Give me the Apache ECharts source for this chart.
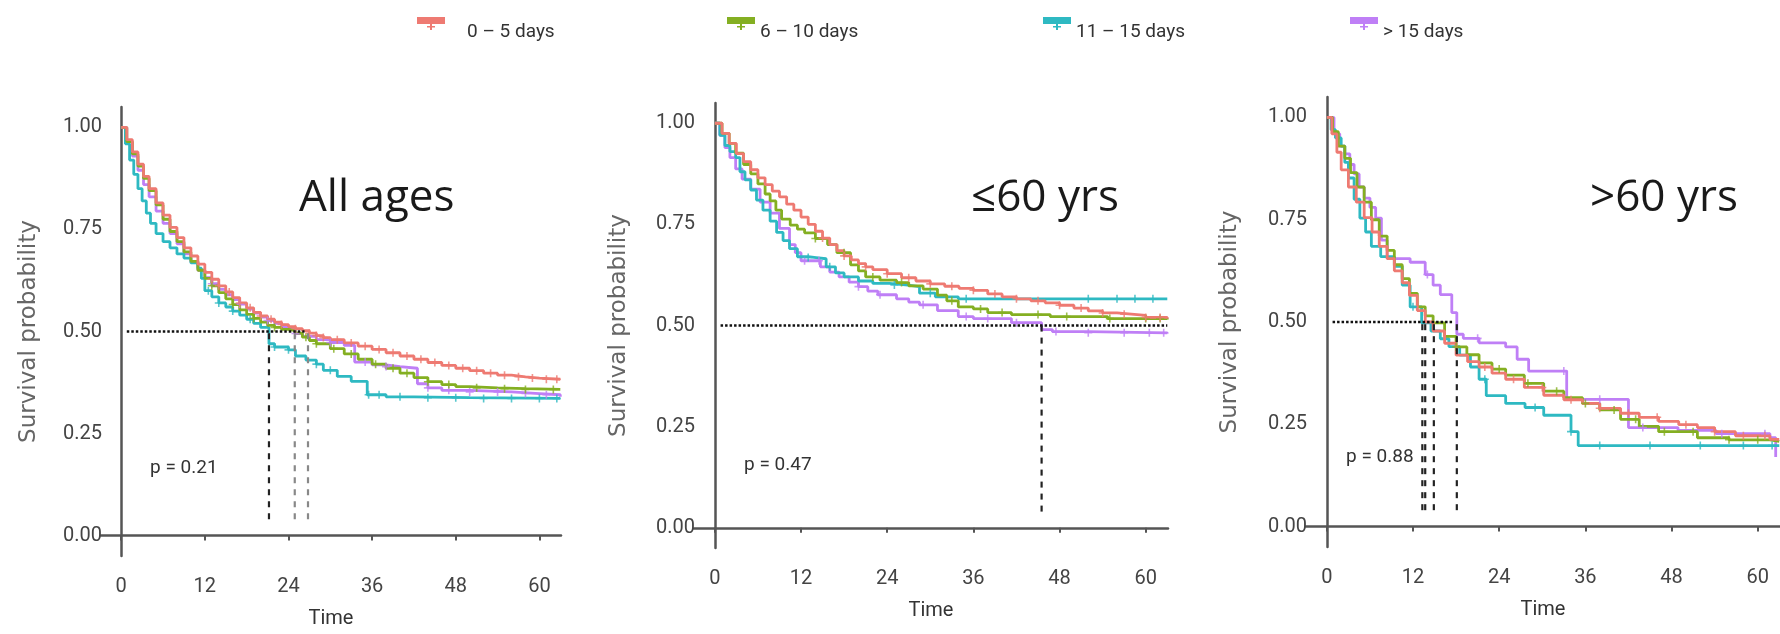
<!DOCTYPE html>
<html>
<head>
<meta charset="utf-8">
<script src="https://cdn.jsdelivr.net/npm/echarts@6/dist/echarts.min.js"></script>
<style>
  html, body { margin: 0; background: #fff; }
  #chart { width: 1780px; height: 634px; }
</style>
</head>
<body>
<div id="chart"></div>
<script>
// strata, panels and ticks
var groups = ['0 – 5 days', '6 – 10 days', '11 – 15 days', '> 15 days'];
var titles = ['All ages', '≤60 yrs', '>60 yrs'];
var pValues = ['p = 0.21', 'p = 0.47', 'p = 0.88'];
var xTicks = [0, 12, 24, 36, 48, 60];
var yTicks = [0, 0.25, 0.5, 0.75, 1];

// Kaplan-Meier curves: [time, survival]
var all05 = [[0,1],[0.8,0.97],[1.6,0.94],[2.4,0.91],[3.2,0.88],[4,0.85],[5,0.815],[6,0.785],[7,0.755],[8,0.73],[9,0.705],[10,0.685],[11,0.665],[12,0.645],[13,0.628],[14,0.612],[15,0.597],[16,0.583],[17,0.57],[18,0.558],[19,0.547],[20,0.538],[21,0.53],[22,0.523],[23,0.517],[24,0.512],[25,0.507],[26,0.502],[27,0.496],[28,0.49],[29,0.485],[30,0.48],[32,0.472],[34,0.464],[36,0.456],[38,0.448],[40,0.44],[42,0.432],[44,0.424],[46,0.417],[48,0.41],[50,0.404],[52,0.398],[54,0.393],[56,0.389],[58,0.386],[60,0.383],[63,0.382]];
var all610 = [[0,1],[0.8,0.965],[1.6,0.935],[2.4,0.905],[3.2,0.875],[4,0.845],[5,0.81],[6,0.775],[7,0.745],[8,0.72],[9,0.695],[10,0.672],[11,0.65],[12,0.63],[13,0.612],[14,0.595],[15,0.58],[16,0.566],[17,0.553],[18,0.542],[19,0.532],[20,0.523],[21,0.515],[22,0.51],[23,0.505],[24,0.502],[25,0.496],[26,0.486],[27,0.478],[28,0.47],[30,0.458],[32,0.445],[34,0.432],[36,0.42],[38,0.41],[40,0.398],[42,0.387],[44,0.377],[46,0.37],[48,0.365],[50,0.362],[54,0.36],[58,0.358],[63,0.357]];
var all1115 = [[0,1],[0.6,0.96],[1.2,0.92],[1.8,0.885],[2.4,0.85],[3,0.82],[3.6,0.79],[4.2,0.765],[5,0.74],[6,0.72],[7,0.705],[8,0.69],[9,0.68],[10,0.668],[11,0.655],[11.5,0.63],[12,0.6],[13,0.585],[14,0.57],[15,0.56],[16,0.55],[17,0.54],[18,0.53],[19,0.52],[20,0.51],[21.2,0.47],[22,0.462],[24,0.455],[25,0.44],[26.5,0.43],[28,0.42],[29,0.405],[31,0.39],[33,0.378],[35.3,0.345],[38,0.34],[42,0.338],[50,0.336],[63,0.336]];
var all15 = [[0,1],[0.8,0.965],[1.6,0.93],[2.4,0.895],[3.2,0.86],[4,0.83],[5,0.795],[6,0.765],[7,0.74],[8,0.715],[9,0.69],[10,0.67],[11,0.65],[12,0.632],[13,0.617],[14,0.603],[15,0.59],[16,0.578],[17,0.567],[18,0.555],[19,0.545],[20,0.535],[21,0.527],[22,0.52],[23,0.512],[24,0.505],[25,0.495],[26,0.488],[28,0.48],[30,0.473],[32,0.466],[33.5,0.425],[36,0.418],[38,0.414],[40,0.41],[42.5,0.372],[44,0.362],[46,0.356],[50,0.352],[56,0.348],[60,0.345],[63,0.34]];

var young05 = [[0,1],[1,0.975],[2,0.95],[3,0.925],[4,0.905],[5,0.885],[6,0.865],[7,0.848],[8,0.832],[9,0.818],[10,0.8],[11,0.785],[12,0.768],[13,0.75],[14,0.733],[15,0.716],[16,0.7],[17,0.685],[18,0.672],[19,0.662],[20,0.653],[21,0.645],[22,0.638],[24,0.628],[26,0.618],[28,0.61],[30,0.603],[32,0.597],[34,0.592],[36,0.587],[38,0.578],[40,0.571],[42,0.566],[44,0.561],[46,0.556],[48,0.55],[50,0.543],[52,0.536],[54,0.531],[56,0.528],[58,0.525],[60,0.52],[63,0.517]];
var young610 = [[0,1],[1,0.975],[2,0.95],[2.9,0.926],[4,0.898],[5,0.875],[6,0.85],[7,0.825],[7.7,0.808],[8.5,0.785],[9.3,0.763],[10.5,0.748],[11.5,0.738],[12.5,0.729],[14,0.715],[15.7,0.7],[17,0.68],[18.9,0.65],[20,0.635],[21,0.62],[23,0.612],[25.3,0.606],[27,0.598],[29,0.59],[31,0.575],[32.3,0.561],[33.9,0.546],[36,0.541],[38,0.532],[41.3,0.527],[46.7,0.522],[54.7,0.517],[63,0.515]];
var young1115 = [[0,1],[0.7,0.97],[1.4,0.945],[2.1,0.93],[2.9,0.915],[3.5,0.88],[4.2,0.86],[5,0.835],[5.8,0.81],[6.7,0.785],[7.7,0.758],[8.6,0.73],[9.5,0.71],[10.4,0.69],[11.5,0.67],[13,0.668],[14.1,0.665],[15.5,0.645],[16.8,0.63],[18,0.62],[20,0.61],[22,0.604],[24.3,0.6],[26.9,0.596],[28.5,0.58],[30.7,0.571],[33.9,0.566],[63,0.566]];
var young15 = [[0,1],[0.7,0.97],[1.4,0.94],[2.1,0.915],[2.9,0.887],[3.8,0.862],[5,0.837],[6.3,0.805],[7.7,0.778],[9,0.74],[10.4,0.7],[11.2,0.68],[12,0.66],[14.7,0.645],[16,0.632],[17.3,0.62],[18.7,0.607],[20,0.596],[21.3,0.585],[22.7,0.576],[25.3,0.566],[27,0.558],[28.5,0.551],[31,0.537],[33.9,0.522],[36,0.517],[41.3,0.507],[45.5,0.49],[47,0.485],[52,0.482],[63,0.48]];

var old05 = [[0,1],[0.7,0.96],[1.4,0.915],[2,0.872],[3,0.83],[4.1,0.793],[5.2,0.755],[6.3,0.72],[7.3,0.685],[8.4,0.655],[9.4,0.625],[10.5,0.596],[11.5,0.565],[12.6,0.528],[13.7,0.5],[14.8,0.478],[16.4,0.448],[18,0.419],[19.6,0.403],[21.2,0.39],[23,0.375],[24.9,0.36],[27.5,0.34],[30.2,0.321],[33,0.31],[35.6,0.301],[38,0.289],[40.9,0.277],[43.5,0.267],[46.2,0.257],[49,0.249],[51.6,0.242],[54,0.232],[56.9,0.222],[61.7,0.213],[63,0.212]];
var old610 = [[0,1],[0.8,0.965],[1.6,0.93],[2.5,0.9],[3.3,0.865],[4.2,0.83],[5.2,0.793],[6.2,0.75],[7.3,0.71],[8.4,0.675],[9.4,0.64],[10.5,0.606],[11.5,0.57],[12.6,0.537],[13.7,0.515],[14.8,0.498],[16.4,0.465],[18,0.439],[19.5,0.42],[21.2,0.4],[23,0.385],[24.9,0.37],[27.5,0.35],[30.2,0.331],[33,0.315],[35.6,0.301],[38,0.285],[40.9,0.262],[43.5,0.245],[46.2,0.232],[51.6,0.217],[56,0.212],[61.7,0.208],[63,0.207]];
var old1115 = [[0,1],[0.6,0.97],[1.2,0.95],[2,0.93],[2.5,0.89],[3,0.852],[3.8,0.8],[4.6,0.754],[5.4,0.72],[6.2,0.685],[7.5,0.66],[9.4,0.636],[10.5,0.59],[11.6,0.537],[13.2,0.498],[14.5,0.478],[15.8,0.459],[17,0.44],[18.5,0.419],[20,0.39],[21.2,0.36],[22.2,0.32],[24.9,0.301],[27.6,0.291],[30.2,0.272],[34,0.232],[35,0.198],[63,0.198]];
var old15 = [[0,1],[1,0.96],[1.8,0.93],[2.5,0.911],[3.2,0.885],[3.8,0.862],[4.5,0.83],[5.2,0.803],[6,0.78],[6.8,0.754],[7.6,0.7],[8.4,0.655],[11.6,0.646],[13.7,0.616],[14.8,0.59],[15.8,0.567],[17.4,0.523],[18.1,0.47],[19,0.46],[21.2,0.449],[24.9,0.439],[26.5,0.409],[28.1,0.38],[33.4,0.311],[42,0.242],[48.9,0.235],[54.2,0.227],[61.7,0.217],[62.5,0.17]];

// censoring times (+ marks)
var all05Cens = [13,14,15.5,17,18.5,20,21.5,23,25,27,28,29,31,33,35,37,39,41,43,45,47,49,51,53,55,57,59,61,62.5];
var all610Cens = [13,16,19,22,26.5,28,30.5,33,36.5,39,41,44,47,51,55,58,62];
var all1115Cens = [12.5,14,16,18.5,22,24,28,30,35.5,37,40,44,48,52,56,60,62.5];
var all15Cens = [13,17,21,25,30,35,38,44,47,50,54,58,61];
var young05Cens = [15,18,21,24,27,30,33,36,39,42,45,48,51,54,57,60,62];
var young610Cens = [14,18,22,26,33,37,40,45,49,55,60,62];
var young1115Cens = [13,16,25,30,35,52,56,58.5,61];
var young15Cens = [12.5,14.5,20,23,29,35,38,42,47.5,52,57,60.5,62.5];
var old05Cens = [22,26,30,34,38,42,46,50,54,58,61];
var old610Cens = [18,24,28,32,36,40,43,47,51,56,60];
var old1115Cens = [12,22,29,34,38,45,52,58,62];
var old15Cens = [14,21,33,38,44,55,61];

// median survival times and the dotted 0.5 line span
var allMedians = [21.2, 24.9, 26.8];
var youngMedians = [45.5];
var oldMedians = [13.3, 13.7, 14.9, 18.1];
var medianLineEnd = [26.3, 63, 17.6];

var colors = ['#EE7A72', '#84AF22', '#2EB9C2', '#BF7FF6'];
var narrow = "Roboto, 'Liberation Sans', sans-serif";
var plus = 'path://M4,0H6V4H10V6H6V10H4V6H0V4H4Z';
// legend key: coloured bar with a small + under it, padded below so the text sits lower
var keyIcon = 'path://M0,0H28V7H0Z M13,7H15V13H13Z M10,9H18V10.5H10Z M0,29.9H0.1V30H0Z';

var curves = [[all05, all610, all1115, all15], [young05, young610, young1115, young15], [old05, old610, old1115, old15]];
var censors = [[all05Cens, all610Cens, all1115Cens, all15Cens], [young05Cens, young610Cens, young1115Cens, young15Cens], [old05Cens, old610Cens, old1115Cens, old15Cens]];
var medians = [allMedians, youngMedians, oldMedians];

var grids = [
  { left: 101, top: 107, width: 460, height: 449 },
  { left: 694, top: 103, width: 474, height: 445 },
  { left: 1306, top: 97, width: 474, height: 450 }
];
var yNameGap = [60, 63, 64];
var titlePos = [[294, 171], [966, 171], [1585, 171]];
var pPos = [[145, 454], [739, 451], [1341, 443]];
var legendX = [412, 722, 1038, 1345];

function stepAt(curve, t) {
  var v = curve[0][1];
  for (var i = 0; i < curve.length; i++) {
    if (curve[i][0] <= t) v = curve[i][1];
  }
  return v;
}

var chart = echarts.init(document.getElementById('chart'));

var xAxes = [], yAxes = [], series = [], titleList = [];
grids.forEach(function (g, p) {
  xAxes.push({
    gridIndex: p, type: 'value', min: -2.9, max: 63.1,
    name: 'Time', nameLocation: 'middle', nameGap: 53,
    nameTextStyle: { fontFamily: narrow, fontSize: 20, color: '#333' },
    axisLine: { lineStyle: { color: '#555', width: 2.5 } },
    axisTick: { show: true, length: 5, customValues: xTicks, lineStyle: { color: '#555', width: 2 } },
    axisLabel: { customValues: xTicks, margin: 21, fontFamily: narrow, fontSize: 20, color: '#444' },
    splitLine: { show: false }
  });
  yAxes.push({
    gridIndex: p, type: 'value', min: -0.05, max: 1.05,
    name: 'Survival probability', nameLocation: 'middle', nameGap: yNameGap[p],
    nameTextStyle: { fontFamily: 'DejaVu Sans', fontSize: 23, color: '#666' },
    axisLine: { show: true, lineStyle: { color: '#555', width: 2.5 } },
    axisTick: { show: false },
    axisLabel: { customValues: yTicks, margin: -1, fontFamily: narrow, fontSize: 20, color: '#444',
      formatter: function (v) { return v.toFixed(2); } },
    splitLine: { show: false }
  });

  titleList.push({ text: titles[p], left: titlePos[p][0], top: titlePos[p][1],
    textStyle: { fontFamily: "'Open Sans','Noto Sans',sans-serif", fontSize: 44, fontWeight: 'normal', color: '#1a1a1a' } });
  titleList.push({ text: pValues[p], left: pPos[p][0], top: pPos[p][1],
    textStyle: { fontFamily: narrow, fontSize: 19, fontWeight: 'normal', color: '#333' } });

  for (var k = 3; k >= 0; k--) {
    var curve = curves[p][k];
    series.push({
      name: groups[k], type: 'line', step: 'end', xAxisIndex: p, yAxisIndex: p,
      showSymbol: false, silent: true, z: 3,
      itemStyle: { color: colors[k] },
      lineStyle: { color: colors[k], width: 2.8 },
      data: curve
    });
    series.push({
      name: groups[k], type: 'scatter', xAxisIndex: p, yAxisIndex: p,
      symbol: plus, symbolSize: 8, silent: true, z: 3,
      itemStyle: { color: colors[k] },
      data: censors[p][k].map(function (t) { return [t, stepAt(curve, t)]; })
    });
  }

  series.push({
    type: 'line', xAxisIndex: p, yAxisIndex: p, showSymbol: false, silent: true, z: 4,
    lineStyle: { color: '#111', width: 2.5, type: [2.5, 2] },
    data: [[0.8, 0.5], [medianLineEnd[p], 0.5]]
  });
  medians[p].forEach(function (m, j) {
    series.push({
      type: 'line', xAxisIndex: p, yAxisIndex: p, showSymbol: false, silent: true, z: 4,
      lineStyle: { color: (p === 0 && j > 0) ? '#888' : '#222', width: 2.2, type: [6, 6] },
      data: [[m, 0.04], [m, 0.5]]
    });
  });
});

var legends = groups.map(function (g, i) {
  return {
    data: [g], left: legendX[i], top: 12, icon: keyIcon,
    itemWidth: 28, itemHeight: 30, selectedMode: false,
    textStyle: { fontFamily: narrow, fontSize: 19, color: '#333', padding: [0, 0, 0, i === 0 ? 17 : 0] }
  };
});

chart.setOption({
  animation: false,
  backgroundColor: '#fff',
  title: titleList,
  legend: legends,
  grid: grids,
  xAxis: xAxes,
  yAxis: yAxes,
  series: series
});
</script>
</body>
</html>
